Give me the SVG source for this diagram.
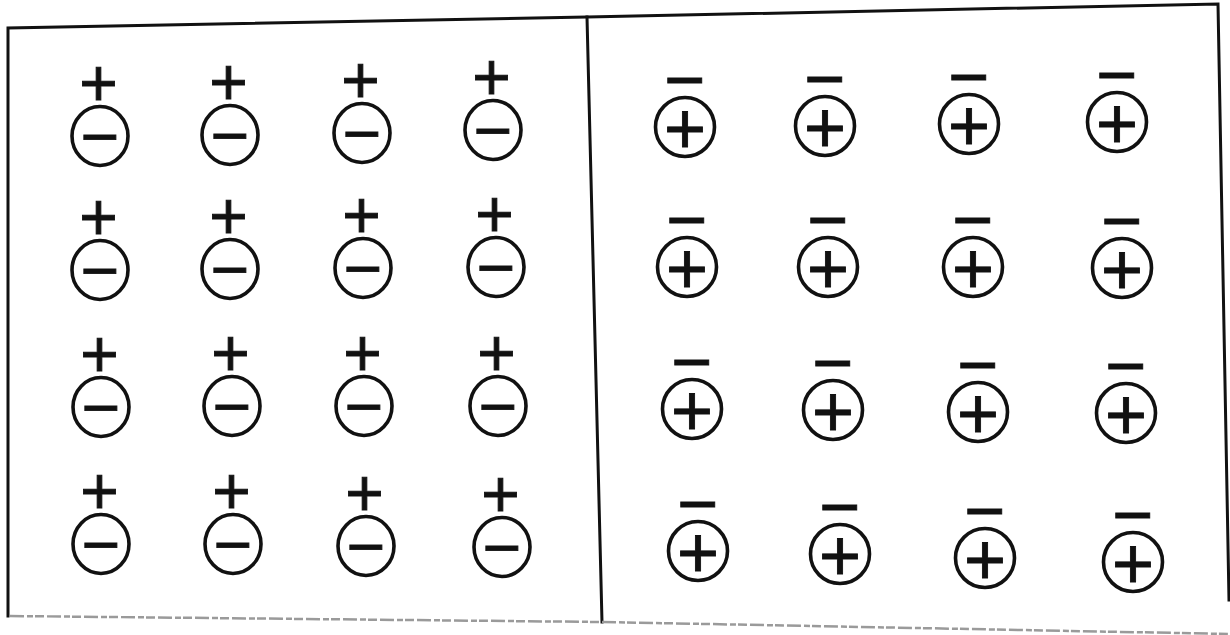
<svg xmlns="http://www.w3.org/2000/svg" width="1230" height="635" viewBox="0 0 1230 635">
<style>
.frame{fill:none;stroke:#111;stroke-width:3;stroke-linecap:square}
.faint{fill:none;stroke:#9a9a9a;stroke-width:2.5;stroke-dasharray:14 3 6 2 9 3}
.ringL{fill:none;stroke:#111;stroke-width:3.6}
.ringR{fill:none;stroke:#111;stroke-width:3.6}
.sg{font-family:"Liberation Sans",Arial,sans-serif;fill:#111;stroke:#111;stroke-width:0.9;text-anchor:middle}
.s66{font-size:66px}
.s70{font-size:70px}
.s72{font-size:72px}
</style>
<defs>
<g id="negIon">
<ellipse class="ringL" cx="0" cy="0" rx="28" ry="29.5"/>
<text class="sg s66" x="0" y="23.4">−</text>
<text class="sg s66" x="-1.5" y="-29.6">+</text>
</g>
<g id="posIon">
<circle class="ringR" cx="0" cy="0" r="29.5"/>
<text class="sg s72" x="0" y="25.5">+</text>
<text class="sg s70" x="0" y="-23.2">−</text>
</g>
</defs>
<rect width="1230" height="635" fill="#fff"/>
<g id="frame">
<polyline class="frame" points="8,616 8,28 587,17 1218,4 1229,600"/>
<line class="frame" x1="587" y1="17" x2="602" y2="622"/>
<line class="faint" x1="10" y1="616" x2="602" y2="622"/>
<line class="faint" x1="602" y1="622" x2="1230" y2="634"/>
</g>
<g id="left-panel">
<g id="L1-1" transform="translate(100,136)"><use href="#negIon"/></g>
<g id="L1-2" transform="translate(230,135)"><use href="#negIon"/></g>
<g id="L1-3" transform="translate(362,133)"><use href="#negIon"/></g>
<g id="L1-4" transform="translate(493,130)"><use href="#negIon"/></g>
<g id="L2-1" transform="translate(100,270)"><use href="#negIon"/></g>
<g id="L2-2" transform="translate(230,269)"><use href="#negIon"/></g>
<g id="L2-3" transform="translate(363,268)"><use href="#negIon"/></g>
<g id="L2-4" transform="translate(496,267)"><use href="#negIon"/></g>
<g id="L3-1" transform="translate(101,407)"><use href="#negIon"/></g>
<g id="L3-2" transform="translate(232,406)"><use href="#negIon"/></g>
<g id="L3-3" transform="translate(364,406)"><use href="#negIon"/></g>
<g id="L3-4" transform="translate(498,406)"><use href="#negIon"/></g>
<g id="L4-1" transform="translate(101,544)"><use href="#negIon"/></g>
<g id="L4-2" transform="translate(233,544)"><use href="#negIon"/></g>
<g id="L4-3" transform="translate(366,546)"><use href="#negIon"/></g>
<g id="L4-4" transform="translate(502,547)"><use href="#negIon"/></g>
</g>
<g id="right-panel">
<g id="R1-1" transform="translate(685,127)"><use href="#posIon"/></g>
<g id="R1-2" transform="translate(825,126)"><use href="#posIon"/></g>
<g id="R1-3" transform="translate(969,124)"><use href="#posIon"/></g>
<g id="R1-4" transform="translate(1117,122)"><use href="#posIon"/></g>
<g id="R2-1" transform="translate(687,267)"><use href="#posIon"/></g>
<g id="R2-2" transform="translate(828,267)"><use href="#posIon"/></g>
<g id="R2-3" transform="translate(973,267)"><use href="#posIon"/></g>
<g id="R2-4" transform="translate(1122,268)"><use href="#posIon"/></g>
<g id="R3-1" transform="translate(692,409)"><use href="#posIon"/></g>
<g id="R3-2" transform="translate(833,410)"><use href="#posIon"/></g>
<g id="R3-3" transform="translate(978,412)"><use href="#posIon"/></g>
<g id="R3-4" transform="translate(1126,413)"><use href="#posIon"/></g>
<g id="R4-1" transform="translate(698,551)"><use href="#posIon"/></g>
<g id="R4-2" transform="translate(840,554)"><use href="#posIon"/></g>
<g id="R4-3" transform="translate(985,558)"><use href="#posIon"/></g>
<g id="R4-4" transform="translate(1133,562)"><use href="#posIon"/></g>
</g>
</svg>
